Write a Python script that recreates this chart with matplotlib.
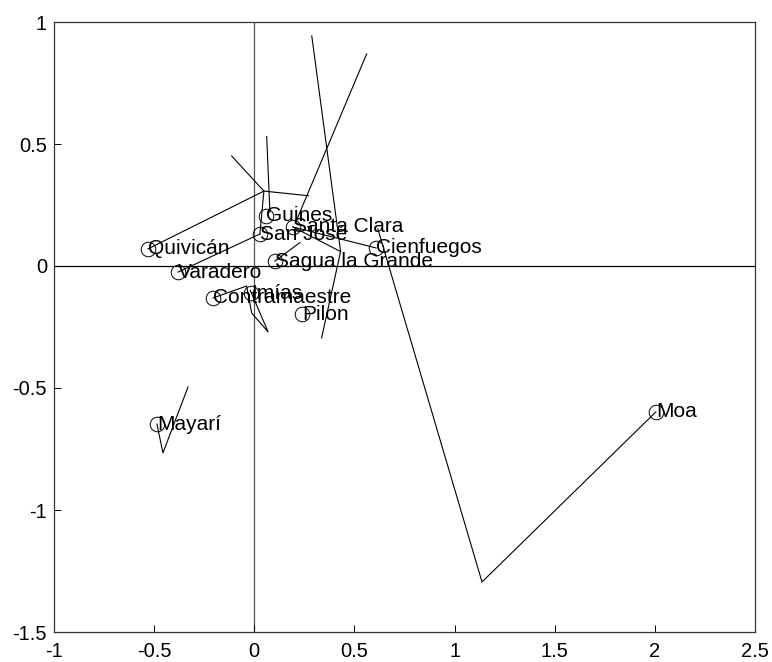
import matplotlib
matplotlib.use("Agg")
import matplotlib.pyplot as plt

plt.rcParams['font.family'] = ['Liberation Sans', 'DejaVu Sans']

# Site scores
names = ["Quivicán", "Varadero", "Guines", "San José", "Santa Clara", "Cienfuegos",
         "Sagua la Grande", "Contramaestre", "Imías", "Pilon", "Mayarí", "Moa"]
xs = [-0.531, -0.381, 0.058, 0.028, 0.193, 0.608, 0.103, -0.206, -0.015, 0.238, -0.486, 2.005]
ys = [0.070, -0.025, 0.205, 0.131, 0.160, 0.074, 0.020, -0.131, -0.111, -0.197, -0.648, -0.598]

# Connecting line paths (vertices)
paths_x = [
    [2.005, 1.137, 0.617],
    [0.193, 0.608],
    [0.287, 0.431, 0.336],
    [0.193, 0.431],
    [0.561, 0.205],
    [-0.531, 0.048, -0.113],
    [0.048, 0.270],
    [0.048, 0.028],
    [0.062, 0.078],
    [-0.381, 0.028],
    [0.103, 0.228],
    [-0.206, -0.038, -0.013, 0.069, -0.020],
    [-0.486, -0.456, -0.331],
]
paths_y = [
    [-0.598, -1.295, 0.152],
    [0.160, 0.074],
    [0.943, 0.059, -0.295],
    [0.160, 0.059],
    [0.869, 0.176],
    [0.070, 0.307, 0.451],
    [0.307, 0.288],
    [0.307, 0.131],
    [0.530, 0.220],
    [-0.025, 0.131],
    [0.020, 0.096],
    [-0.131, -0.082, -0.193, -0.270, -0.100],
    [-0.648, -0.766, -0.496],
]

xticks = [-1, -0.5, 0, 0.5, 1, 1.5, 2, 2.5]
xticklabels = ["-1", "-0.5", "0", "0.5", "1", "1.5", "2", "2.5"]
yticks = [-1.5, -1, -0.5, 0, 0.5, 1]
yticklabels = ["-1.5", "-1", "-0.5", "0", "0.5", "1"]

fig = plt.figure(figsize=(7.72, 6.62), dpi=100)
ax = fig.add_axes([54/772, 30/662, 701/772, 610/662])

ax.axhline(0, color='black', lw=0.9, zorder=1)
ax.axvline(0, color='#555555', lw=0.9, zorder=1)

for px, py in zip(paths_x, paths_y):
    ax.plot(px, py, color='black', lw=0.8, zorder=2)

ax.plot(xs, ys, linestyle='none', marker='o', markersize=10.5,
        markerfacecolor='none', markeredgecolor='black', markeredgewidth=0.7, zorder=3)

for n, x, y in zip(names, xs, ys):
    ax.text(x, y, n, ha='left', va='center', fontsize=15, color='black', zorder=4)

ax.set_xlim(-1, 2.5)
ax.set_ylim(-1.5, 1)
ax.set_xticks(xticks)
ax.set_xticklabels(xticklabels)
ax.set_yticks(yticks)
ax.set_yticklabels(yticklabels)
ax.tick_params(direction='in', length=5, width=0.7, labelsize=14.5, colors='black')
ax.tick_params(axis='y', pad=5)
ax.tick_params(axis='x', pad=7)
for s in ax.spines.values():
    s.set_color('#333333')
    s.set_linewidth(0.9)

fig.savefig("out.png", dpi=100)
